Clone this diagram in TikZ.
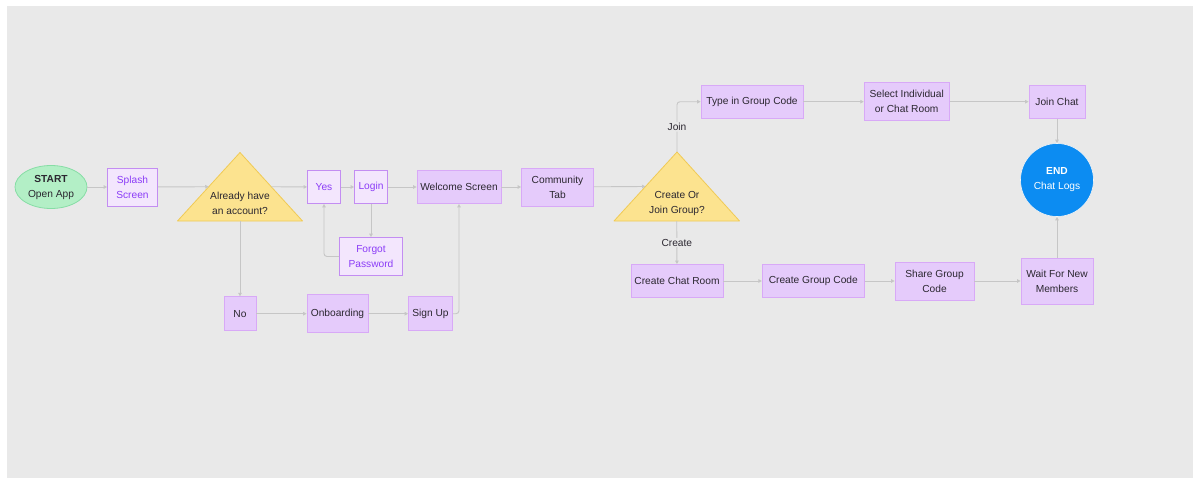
\documentclass[tikz,border=0pt]{standalone}
\usepackage{fontspec}
\setmainfont{Liberation Sans}
\usetikzlibrary{shapes.geometric,arrows.meta,calc}

\definecolor{bggray}{HTML}{E9E9E9}
\definecolor{linkgray}{HTML}{C6C6C6}
\definecolor{lightfill}{HTML}{F3E6FD}
\definecolor{lightedge}{HTML}{C38DF2}
\definecolor{lighttext}{HTML}{8B3CF7}
\definecolor{darkfill}{HTML}{E5CBFB}
\definecolor{darkedge}{HTML}{D8A9F7}
\definecolor{darktext}{HTML}{2B2730}
\definecolor{startfill}{HTML}{B3EFC6}
\definecolor{startedge}{HTML}{86DDA5}
\definecolor{askfill}{HTML}{FCE38F}
\definecolor{askedge}{HTML}{F0CA55}
\definecolor{endfill}{HTML}{0C8CF2}

\begin{document}
\begin{tikzpicture}[x=1pt, y=1pt, node distance=80pt,
  every node/.style={font=\fontsize{10.2}{15}\selectfont, align=center, inner sep=2pt, text=darktext},
  light/.style={rectangle, draw=lightedge, fill=lightfill, text=lighttext, line width=0.8pt},
  dark/.style={rectangle, draw=darkedge, fill=darkfill, text=darktext, line width=0.8pt},
  ask/.style={draw=askedge, fill=askfill, line width=0.8pt, line join=round},
  link/.style={draw=linkgray, line width=0.9pt, rounded corners=3pt, -{Triangle[length=3.5pt,width=3.5pt]}},
  branch/.style={fill=bggray, inner sep=1pt}]
  \useasboundingbox (0,0) rectangle (1200,-485);
  \fill[bggray] (6.5,-6) rectangle (1193,-477.5);

  \node[ellipse, draw=startedge, fill=startfill, line width=0.8pt, minimum width=72pt, minimum height=43pt] (start) at (51,-187) {\textbf{START}\\Open App};
  \node[light, right of=start, node distance=81.5pt, minimum width=50pt, minimum height=38pt] (splash) {Splash\\Screen};

  \coordinate (acctT) at (240,-152.5);
  \coordinate (acctL) at (177.5,-221);
  \coordinate (acctR) at (302.5,-221);
  \draw[ask] (acctT) -- (acctL) -- (acctR) -- cycle;
  \node (acct) at (240,-203.5) {Already have\\an account?};
  \coordinate (acctin) at ($(acctT)!.5!(acctL)$);
  \coordinate (acctout) at ($(acctT)!.5!(acctR)$);
  \coordinate (acctB) at ($(acctL)!.5!(acctR)$);

  \node[light, right of=splash, node distance=191.5pt, minimum width=33pt, minimum height=33pt] (yes) {Yes};
  \node[light, right of=yes, node distance=47pt, minimum width=33pt, minimum height=33pt] (login) {Login};
  \node[light, below of=login, node distance=69.5pt, minimum width=63pt, minimum height=38pt] (forgot) {Forgot\\Password};
  \node[dark, right of=login, node distance=88pt, minimum width=84pt, minimum height=33pt] (welcome) {Welcome Screen};
  \node[dark, right of=welcome, node distance=98.5pt, minimum width=72pt, minimum height=38pt] (community) {Community\\Tab};

  \node[dark, below of=acct, node distance=110.2pt, minimum width=32pt, minimum height=34pt] (no) {No};
  \node[dark, right of=no, node distance=97.5pt, minimum width=61pt, minimum height=38pt] (onboard) {Onboarding};
  \node[dark, right of=onboard, node distance=93pt, minimum width=44pt, minimum height=34pt] (signup) {Sign Up};

  \coordinate (grpT) at (677,-152);
  \coordinate (grpL) at (614,-221);
  \coordinate (grpR) at (739.5,-221);
  \draw[ask] (grpT) -- (grpL) -- (grpR) -- cycle;
  \node (grp) at (677,-203.5) {Create Or\\Join Group?};
  \coordinate (grpin) at ($(grpT)!.5!(grpL)$);
  \coordinate (grpB) at ($(grpL)!.5!(grpR)$);

  \node[dark, minimum width=102pt, minimum height=33pt] (typecode) at (752,-101.7) {Type in Group Code};
  \node[dark, right of=typecode, node distance=154.7pt, minimum width=85pt, minimum height=38pt] (select) {Select Individual\\or Chat Room};
  \node[dark, right of=select, node distance=150.3pt, minimum width=56pt, minimum height=33pt] (joinchat) {Join Chat};
  \node[circle, draw=white!96!black, fill=endfill, text=white, line width=0.6pt, minimum size=73pt, below of=joinchat, node distance=78.3pt] (end) {\textbf{END}\\Chat Logs};

  \node[dark, below of=grp, node distance=77.5pt, minimum width=92pt, minimum height=33pt] (chatroom) {Create Chat Room};
  \node[dark, right of=chatroom, node distance=136.3pt, minimum width=102pt, minimum height=33pt] (groupcode) {Create Group Code};
  \node[dark, right of=groupcode, node distance=121.2pt, minimum width=79pt, minimum height=38pt] (share) {Share Group\\Code};
  \node[dark, right of=share, node distance=122.5pt, minimum width=72pt, minimum height=46pt] (wait) {Wait For New\\Members};

  \draw[link] (start) -- (splash);
  \draw[link] (splash) -- (acctin);
  \draw[link] (acctout) -- (yes);
  \draw[link] (acctB) -- (acctB |- no.north);
  \draw[link] (yes) -- (login);
  \draw[link] (login) -- (forgot);
  \draw[link] (forgot.west) -| (yes.south);
  \draw[link] (login) -- (welcome);
  \draw[link] (no) -- (onboard);
  \draw[link] (onboard) -- (signup);
  \draw[link] (signup.east) -| (welcome.south);
  \draw[link] (welcome) -- (community);
  \draw[link] (community) -- (grpin);
  \draw[link] (grpT) |- node[branch, pos=0.25] {Join} (typecode.west);
  \draw[link] (grpB) -- node[branch] {Create} (chatroom);
  \draw[link] (typecode) -- (select);
  \draw[link] (select) -- (joinchat);
  \draw[link] (joinchat) -- (end);
  \draw[link] (chatroom) -- (groupcode);
  \draw[link] (groupcode) -- (share);
  \draw[link] (share) -- (wait);
  \draw[link] (wait) -- (end);
\end{tikzpicture}
\end{document}
